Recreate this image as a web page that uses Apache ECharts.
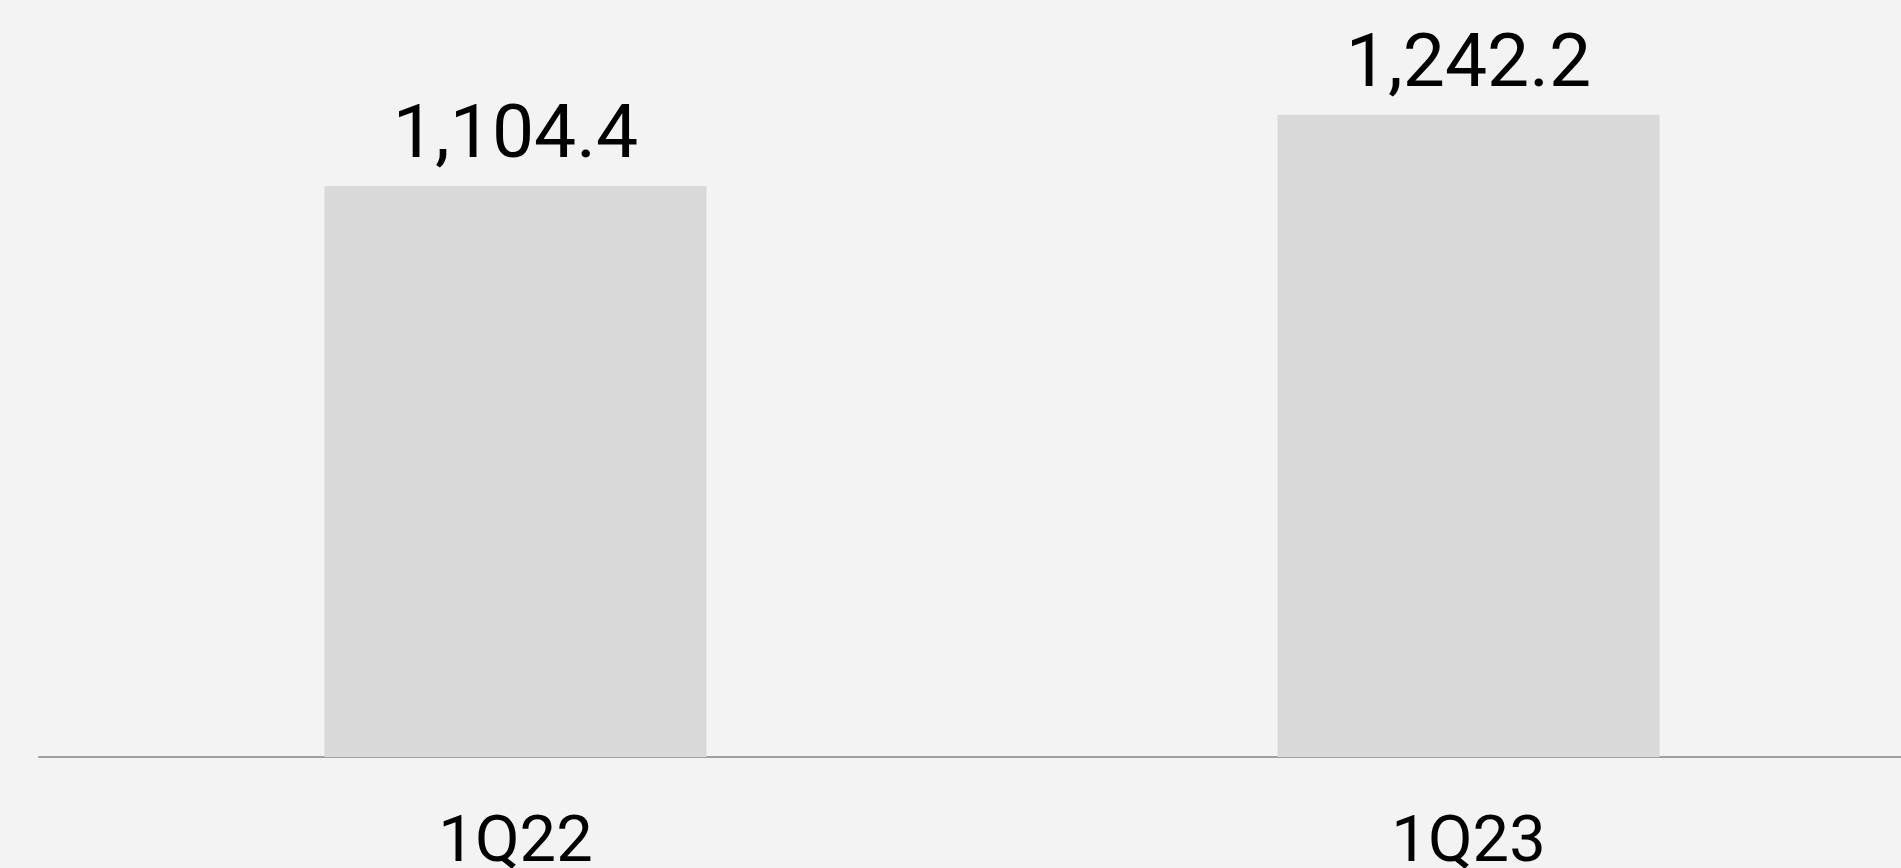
<!DOCTYPE html>
<html>
<head>
<meta charset="utf-8">
<script src="https://cdn.jsdelivr.net/npm/echarts@6/dist/echarts.min.js"></script>
<style>
  html, body { margin: 0; padding: 0; background: #f3f3f3; }
  #chart { width: 1901px; height: 868px; }
</style>
</head>
<body>
<div id="chart"></div>
<script>
// quarters and values
var categories = ['1Q22', '1Q23']
var values = [1104.4, 1242.2]

// x is a value axis so the bars can sit off-centre like the reference
// (953px per category, second slot runs past the right edge)
var xMin = -0.5
var xMax = xMin + 1862 / 953

var myChart = echarts.init(document.getElementById('chart'))
myChart.setOption({
  backgroundColor: '#f3f3f3',
  animation: false,
  // labels run to the bottom edge, don't let the grid shrink for them
  grid: { left: 39, right: 0, top: 0, bottom: 111, outerBoundsMode: 'none' },
  xAxis: {
    type: 'value',
    min: xMin,
    max: xMax,
    splitLine: { show: false },
    axisLine: { show: true, onZero: false, lineStyle: { color: '#a0a0a0', width: 2 } },
    axisTick: { show: false },
    axisLabel: {
      customValues: categories.map(function (c, i) { return i }),
      formatter: function (v) { return categories[Math.round(v)] },
      margin: 55,
      color: '#000',
      fontFamily: 'Roboto',
      fontSize: 65
    }
  },
  yAxis: {
    type: 'value',
    min: 0,
    max: 1464,
    show: false
  },
  series: [{
    type: 'bar',
    data: values.map(function (v, i) { return [i, v] }),
    barWidth: 382,
    itemStyle: { color: '#d9d9d9' },
    label: {
      show: true,
      position: 'top',
      distance: 10,
      color: '#000',
      fontFamily: 'Roboto',
      fontSize: 75,
      formatter: function (p) {
        return p.value[1].toLocaleString('en-US', { minimumFractionDigits: 1, maximumFractionDigits: 1 })
      }
    }
  }]
})
</script>
</body>
</html>
